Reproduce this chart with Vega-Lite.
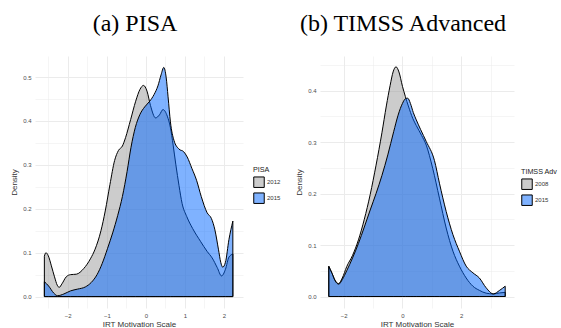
{
  "$schema": "https://vega.github.io/schema/vega-lite/v6.json",
  "padding": {"left": 10, "top": 12, "right": 0, "bottom": 0},
  "background": "white",
  "config": {
    "view": {"stroke": null},
    "font": "Liberation Sans",
    "axis": {
      "domain": false,
      "ticks": false,
      "gridColor": "#ebebeb",
      "labelFont": "Liberation Sans",
      "labelFontSize": 6,
      "labelColor": "#4d4d4d",
      "titleFont": "Liberation Sans",
      "titleFontSize": 8,
      "titleFontWeight": "normal",
      "titleColor": "#333333"
    },
    "legend": {
      "titleFont": "Liberation Sans",
      "titleFontSize": 7.2,
      "titleFontWeight": "normal",
      "titleColor": "#222222",
      "labelFont": "Liberation Sans",
      "labelFontSize": 6,
      "labelColor": "#333333",
      "symbolType": "square",
      "symbolSize": 110,
      "symbolStrokeColor": "black",
      "symbolStrokeWidth": 1,
      "rowPadding": 0,
      "labelOffset": 2,
      "titlePadding": 3
    },
    "title": {
      "font": "Liberation Serif",
      "fontSize": 24,
      "fontWeight": "normal",
      "color": "black",
      "offset": 20
    }
  },
  "datasets": {
    "pisa": [
      {"year": "2012", "x": -2.60, "density": 0.092},
      {"year": "2012", "x": -2.56, "density": 0.100},
      {"year": "2012", "x": -2.50, "density": 0.093},
      {"year": "2012", "x": -2.42, "density": 0.070},
      {"year": "2012", "x": -2.34, "density": 0.045},
      {"year": "2012", "x": -2.27, "density": 0.026},
      {"year": "2012", "x": -2.22, "density": 0.021},
      {"year": "2012", "x": -2.15, "density": 0.029},
      {"year": "2012", "x": -2.04, "density": 0.045},
      {"year": "2012", "x": -1.93, "density": 0.050},
      {"year": "2012", "x": -1.78, "density": 0.051},
      {"year": "2012", "x": -1.59, "density": 0.064},
      {"year": "2012", "x": -1.42, "density": 0.086},
      {"year": "2012", "x": -1.30, "density": 0.108},
      {"year": "2012", "x": -1.15, "density": 0.150},
      {"year": "2012", "x": -1.04, "density": 0.195},
      {"year": "2012", "x": -0.92, "density": 0.255},
      {"year": "2012", "x": -0.80, "density": 0.310},
      {"year": "2012", "x": -0.70, "density": 0.333},
      {"year": "2012", "x": -0.60, "density": 0.343},
      {"year": "2012", "x": -0.52, "density": 0.362},
      {"year": "2012", "x": -0.39, "density": 0.403},
      {"year": "2012", "x": -0.26, "density": 0.445},
      {"year": "2012", "x": -0.15, "density": 0.472},
      {"year": "2012", "x": -0.06, "density": 0.481},
      {"year": "2012", "x": 0.03, "density": 0.468},
      {"year": "2012", "x": 0.12, "density": 0.435},
      {"year": "2012", "x": 0.25, "density": 0.407},
      {"year": "2012", "x": 0.35, "density": 0.414},
      {"year": "2012", "x": 0.44, "density": 0.426},
      {"year": "2012", "x": 0.55, "density": 0.411},
      {"year": "2012", "x": 0.63, "density": 0.385},
      {"year": "2012", "x": 0.70, "density": 0.345},
      {"year": "2012", "x": 0.77, "density": 0.300},
      {"year": "2012", "x": 0.85, "density": 0.253},
      {"year": "2012", "x": 0.93, "density": 0.212},
      {"year": "2012", "x": 1.05, "density": 0.182},
      {"year": "2012", "x": 1.20, "density": 0.155},
      {"year": "2012", "x": 1.40, "density": 0.126},
      {"year": "2012", "x": 1.57, "density": 0.103},
      {"year": "2012", "x": 1.70, "density": 0.088},
      {"year": "2012", "x": 1.83, "density": 0.066},
      {"year": "2012", "x": 1.94, "density": 0.047},
      {"year": "2012", "x": 2.04, "density": 0.062},
      {"year": "2012", "x": 2.13, "density": 0.090},
      {"year": "2012", "x": 2.23, "density": 0.097},
      {"year": "2015", "x": -2.60, "density": 0.034},
      {"year": "2015", "x": -2.49, "density": 0.024},
      {"year": "2015", "x": -2.36, "density": 0.008},
      {"year": "2015", "x": -2.26, "density": 0.002},
      {"year": "2015", "x": -2.10, "density": 0.006},
      {"year": "2015", "x": -1.93, "density": 0.013},
      {"year": "2015", "x": -1.75, "density": 0.017},
      {"year": "2015", "x": -1.55, "density": 0.022},
      {"year": "2015", "x": -1.40, "density": 0.032},
      {"year": "2015", "x": -1.25, "density": 0.050},
      {"year": "2015", "x": -1.12, "density": 0.075},
      {"year": "2015", "x": -0.98, "density": 0.110},
      {"year": "2015", "x": -0.85, "density": 0.145},
      {"year": "2015", "x": -0.72, "density": 0.185},
      {"year": "2015", "x": -0.60, "density": 0.228},
      {"year": "2015", "x": -0.48, "density": 0.285},
      {"year": "2015", "x": -0.38, "density": 0.340},
      {"year": "2015", "x": -0.27, "density": 0.385},
      {"year": "2015", "x": -0.15, "density": 0.415},
      {"year": "2015", "x": -0.03, "density": 0.432},
      {"year": "2015", "x": 0.10, "density": 0.445},
      {"year": "2015", "x": 0.21, "density": 0.460},
      {"year": "2015", "x": 0.31, "density": 0.480},
      {"year": "2015", "x": 0.39, "density": 0.505},
      {"year": "2015", "x": 0.46, "density": 0.522},
      {"year": "2015", "x": 0.52, "density": 0.500},
      {"year": "2015", "x": 0.57, "density": 0.455},
      {"year": "2015", "x": 0.63, "density": 0.398},
      {"year": "2015", "x": 0.72, "density": 0.356},
      {"year": "2015", "x": 0.85, "density": 0.336},
      {"year": "2015", "x": 0.97, "density": 0.330},
      {"year": "2015", "x": 1.06, "density": 0.318},
      {"year": "2015", "x": 1.18, "density": 0.292},
      {"year": "2015", "x": 1.30, "density": 0.265},
      {"year": "2015", "x": 1.42, "density": 0.228},
      {"year": "2015", "x": 1.57, "density": 0.191},
      {"year": "2015", "x": 1.68, "density": 0.178},
      {"year": "2015", "x": 1.77, "density": 0.152},
      {"year": "2015", "x": 1.86, "density": 0.108},
      {"year": "2015", "x": 1.92, "density": 0.078},
      {"year": "2015", "x": 1.97, "density": 0.067},
      {"year": "2015", "x": 2.04, "density": 0.078},
      {"year": "2015", "x": 2.13, "density": 0.130},
      {"year": "2015", "x": 2.23, "density": 0.172}
    ],
    "timss": [
      {"year": "2008", "x": -2.51, "density": 0.058},
      {"year": "2008", "x": -2.40, "density": 0.045},
      {"year": "2008", "x": -2.30, "density": 0.032},
      {"year": "2008", "x": -2.18, "density": 0.025},
      {"year": "2008", "x": -2.05, "density": 0.036},
      {"year": "2008", "x": -1.90, "density": 0.058},
      {"year": "2008", "x": -1.70, "density": 0.080},
      {"year": "2008", "x": -1.50, "density": 0.110},
      {"year": "2008", "x": -1.30, "density": 0.150},
      {"year": "2008", "x": -1.10, "density": 0.198},
      {"year": "2008", "x": -0.90, "density": 0.255},
      {"year": "2008", "x": -0.70, "density": 0.318},
      {"year": "2008", "x": -0.55, "density": 0.370},
      {"year": "2008", "x": -0.42, "density": 0.410},
      {"year": "2008", "x": -0.32, "density": 0.436},
      {"year": "2008", "x": -0.22, "density": 0.446},
      {"year": "2008", "x": -0.12, "density": 0.436},
      {"year": "2008", "x": 0.00, "density": 0.408},
      {"year": "2008", "x": 0.10, "density": 0.388},
      {"year": "2008", "x": 0.20, "density": 0.370},
      {"year": "2008", "x": 0.35, "density": 0.346},
      {"year": "2008", "x": 0.47, "density": 0.332},
      {"year": "2008", "x": 0.65, "density": 0.313},
      {"year": "2008", "x": 0.81, "density": 0.294},
      {"year": "2008", "x": 1.03, "density": 0.249},
      {"year": "2008", "x": 1.26, "density": 0.191},
      {"year": "2008", "x": 1.49, "density": 0.133},
      {"year": "2008", "x": 1.72, "density": 0.088},
      {"year": "2008", "x": 1.94, "density": 0.059},
      {"year": "2008", "x": 2.17, "density": 0.036},
      {"year": "2008", "x": 2.40, "density": 0.020},
      {"year": "2008", "x": 2.62, "density": 0.012},
      {"year": "2008", "x": 2.85, "density": 0.0065},
      {"year": "2008", "x": 3.10, "density": 0.005},
      {"year": "2008", "x": 3.31, "density": 0.007},
      {"year": "2008", "x": 3.50, "density": 0.008},
      {"year": "2015", "x": -2.51, "density": 0.059},
      {"year": "2015", "x": -2.40, "density": 0.045},
      {"year": "2015", "x": -2.30, "density": 0.031},
      {"year": "2015", "x": -2.17, "density": 0.024},
      {"year": "2015", "x": -2.05, "density": 0.033},
      {"year": "2015", "x": -1.90, "density": 0.050},
      {"year": "2015", "x": -1.70, "density": 0.075},
      {"year": "2015", "x": -1.50, "density": 0.103},
      {"year": "2015", "x": -1.30, "density": 0.135},
      {"year": "2015", "x": -1.10, "density": 0.168},
      {"year": "2015", "x": -0.90, "density": 0.200},
      {"year": "2015", "x": -0.70, "density": 0.235},
      {"year": "2015", "x": -0.50, "density": 0.275},
      {"year": "2015", "x": -0.30, "density": 0.320},
      {"year": "2015", "x": -0.15, "density": 0.352},
      {"year": "2015", "x": 0.00, "density": 0.375},
      {"year": "2015", "x": 0.10, "density": 0.384},
      {"year": "2015", "x": 0.18, "density": 0.385},
      {"year": "2015", "x": 0.27, "density": 0.375},
      {"year": "2015", "x": 0.37, "density": 0.357},
      {"year": "2015", "x": 0.47, "density": 0.343},
      {"year": "2015", "x": 0.62, "density": 0.324},
      {"year": "2015", "x": 0.81, "density": 0.301},
      {"year": "2015", "x": 1.09, "density": 0.264},
      {"year": "2015", "x": 1.26, "density": 0.220},
      {"year": "2015", "x": 1.49, "density": 0.165},
      {"year": "2015", "x": 1.72, "density": 0.120},
      {"year": "2015", "x": 1.94, "density": 0.088},
      {"year": "2015", "x": 2.17, "density": 0.059},
      {"year": "2015", "x": 2.40, "density": 0.046},
      {"year": "2015", "x": 2.62, "density": 0.036},
      {"year": "2015", "x": 2.85, "density": 0.017},
      {"year": "2015", "x": 3.10, "density": 0.005},
      {"year": "2015", "x": 3.31, "density": 0.012},
      {"year": "2015", "x": 3.50, "density": 0.020}
    ]
  },
  "hconcat": [
    {
      "title": {"text": "(a) PISA", "dx": -4},
      "width": 208,
      "height": 252,
      "data": {"name": "pisa"},
      "mark": {"type": "area", "interpolate": "monotone", "stroke": "black", "strokeWidth": 1, "fillOpacity": 0.5},
      "encoding": {
        "x": {
          "field": "x", "type": "quantitative",
          "scale": {"domain": [-2.84, 2.49], "nice": false, "zero": false},
          "axis": {
            "title": "IRT Motivation Scale",
            "values": [-2.5, -2, -1.5, -1, -0.5, 0, 0.5, 1, 1.5, 2],
            "labelExpr": "datum.value % 1 == 0 ? format(datum.value, 'd') : ''",
            "gridWidth": {"condition": {"test": "datum.value % 1 != 0", "value": 0.5}, "value": 1},
            "labelPadding": 4, "titlePadding": 2, "labelFlush": false
          }
        },
        "y": {
          "field": "density", "type": "quantitative",
          "scale": {"domain": [-0.026, 0.548], "nice": false, "zero": false},
          "axis": {
            "title": "Density",
            "values": [0, 0.05, 0.1, 0.15, 0.2, 0.25, 0.3, 0.35, 0.4, 0.45, 0.5],
            "labelExpr": "round(datum.value * 100) % 10 == 0 ? format(datum.value, '.1f') : ''",
            "gridWidth": {"condition": {"test": "round(datum.value * 100) % 10 != 0", "value": 0.5}, "value": 1},
            "labelPadding": 4, "titlePadding": 4, "labelFlush": false
          }
        },
        "y2": {"datum": 0},
        "color": {
          "field": "year", "type": "nominal",
          "scale": {"domain": ["2012", "2015"], "range": ["#999999", "#0066ff"]},
          "legend": {
            "title": "PISA", "orient": "none", "legendX": 218, "legendY": 110,
            "encode": {"symbols": {"update": {"fillOpacity": {"value": 0.5}}}}
          }
        }
      }
    },
    {
      "title": {"text": "(b) TIMSS Advanced", "dx": -14},
      "width": 194,
      "height": 252,
      "data": {"name": "timss"},
      "mark": {"type": "area", "interpolate": "monotone", "stroke": "black", "strokeWidth": 1, "fillOpacity": 0.5},
      "encoding": {
        "x": {
          "field": "x", "type": "quantitative",
          "scale": {"domain": [-2.81, 3.8], "nice": false, "zero": false},
          "axis": {
            "title": "IRT Motivation Scale",
            "values": [-2, -1, 0, 1, 2, 3],
            "labelExpr": "datum.value % 2 == 0 ? format(datum.value, 'd') : ''",
            "gridWidth": {"condition": {"test": "datum.value % 2 != 0", "value": 0.5}, "value": 1},
            "labelPadding": 4, "titlePadding": 2, "labelFlush": false
          }
        },
        "y": {
          "field": "density", "type": "quantitative",
          "scale": {"domain": [-0.0223, 0.467], "nice": false, "zero": false},
          "axis": {
            "title": "Density",
            "values": [0, 0.05, 0.1, 0.15, 0.2, 0.25, 0.3, 0.35, 0.4, 0.45],
            "labelExpr": "round(datum.value * 100) % 10 == 0 ? format(datum.value, '.1f') : ''",
            "gridWidth": {"condition": {"test": "round(datum.value * 100) % 10 != 0", "value": 0.5}, "value": 1},
            "labelPadding": 4, "titlePadding": 4, "labelFlush": false
          }
        },
        "y2": {"datum": 0},
        "color": {
          "field": "year", "type": "nominal",
          "scale": {"domain": ["2008", "2015"], "range": ["#999999", "#0066ff"]},
          "legend": {
            "title": "TIMSS Adv", "orient": "none", "legendX": 201, "legendY": 112,
            "encode": {"symbols": {"update": {"fillOpacity": {"value": 0.5}}}}
          }
        }
      }
    }
  ],
  "spacing": 14,
  "resolve": {"scale": {"color": "independent"}}
}
